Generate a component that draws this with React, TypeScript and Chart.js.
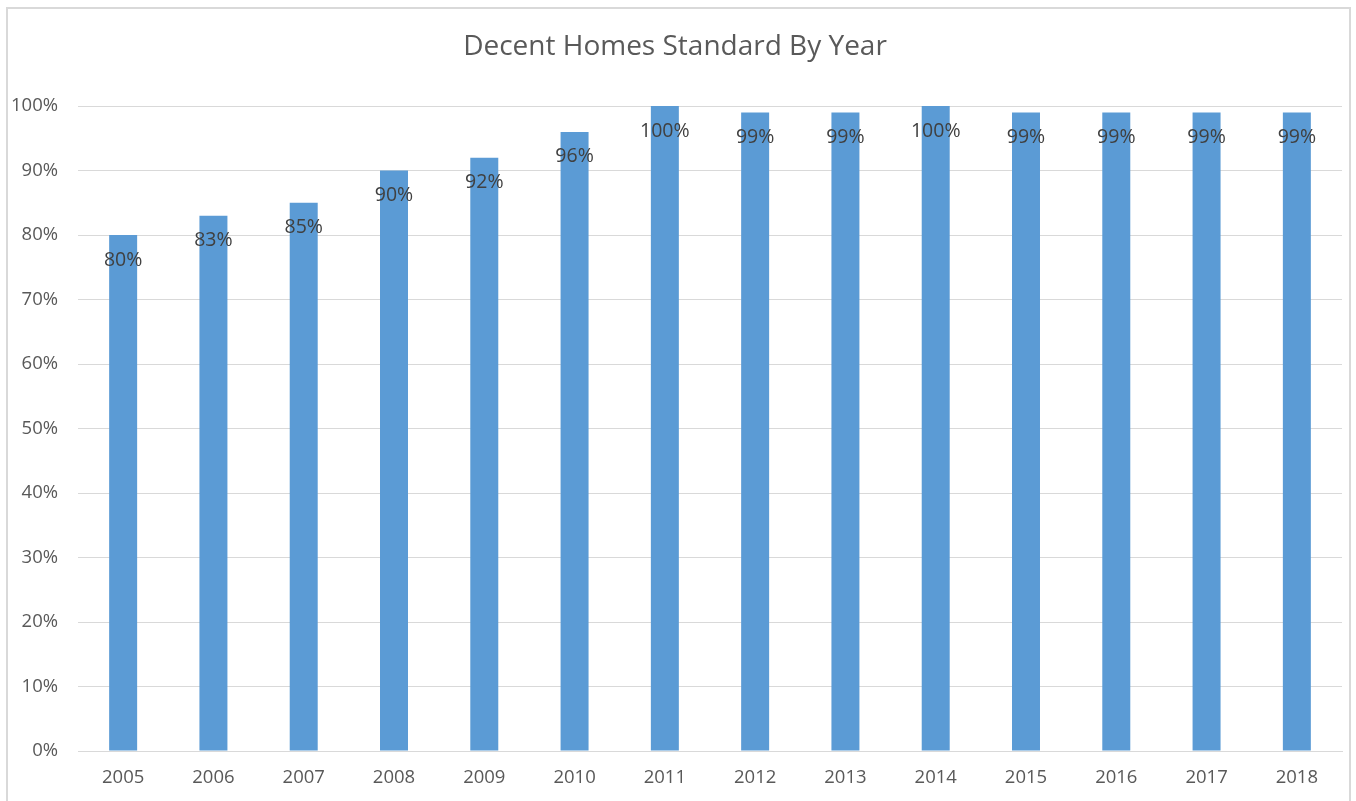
import React, { useEffect, useRef } from "react";
import { Chart, registerables } from "chart.js";

Chart.register(...registerables);

const years = ["2005", "2006", "2007", "2008", "2009", "2010", "2011", "2012", "2013", "2014", "2015", "2016", "2017", "2018"];
const decentPct = [80, 83, 85, 90, 92, 96, 100, 99, 99, 100, 99, 99, 99, 99];
const titleText = "Decent Homes Standard By Year";

const FONT = "'Open Sans', 'Noto Sans', sans-serif";

const labelPlugin = {
  id: "barLabels",
  afterDatasetsDraw(chart: any) {
    const ctx = chart.ctx;
    const meta = chart.getDatasetMeta(0);
    ctx.save();
    ctx.font = `19.5px ${FONT}`;
    ctx.fillStyle = "#404040";
    ctx.textAlign = "center";
    ctx.textBaseline = "middle";
    meta.data.forEach((bar: any, i: number) => {
      ctx.fillText(decentPct[i] + "%", bar.x, bar.y + 25);
    });
    ctx.restore();
  },
};

export default function App() {
  const ref = useRef<HTMLCanvasElement>(null);
  useEffect(() => {
    if (!ref.current) return;
    const chart = new Chart(ref.current, {
      type: "bar",
      data: {
        labels: years,
        datasets: [
          {
            data: decentPct,
            backgroundColor: "#5B9BD5",
            borderWidth: 0,
            categoryPercentage: 1,
            barPercentage: 0.31,
          },
        ],
      },
      options: {
        animation: false,
        responsive: false,
        layout: { padding: { left: 0, right: 7, top: 0, bottom: 0 } },
        plugins: {
          legend: { display: false },
          tooltip: { enabled: false },
          title: {
            display: true,
            text: titleText,
            color: "#595959",
            font: { family: FONT, size: 28, weight: "normal" },
            padding: { top: 21.5, bottom: 42 },
          },
        },
        scales: {
          x: {
            grid: { display: false, drawTicks: false },
            border: { display: true, color: "#d9d9d9", width: 1 },
            ticks: { color: "#595959", font: { family: FONT, size: 18.5 }, padding: 16, maxRotation: 0 },
            afterFit: (s: any) => { s.height = 50; },
          },
          y: {
            min: 0,
            max: 100,
            grid: { color: "#d9d9d9", drawTicks: false },
            border: { display: false },
            ticks: {
              stepSize: 10,
              color: "#595959",
              font: { family: FONT, size: 18.5 },
              padding: 20,
              callback: (v: any) => v + "%",
            },
            afterFit: (s: any) => { s.width = 70; },
          },
        },
      },
      plugins: [labelPlugin],
    });
    return () => chart.destroy();
  }, []);
  return (
    <div
      style={{
        position: "absolute",
        left: 6,
        top: 7,
        width: 1341,
        height: 800,
        border: "2px solid #d9d9d9",
        background: "#fff",
        boxSizing: "content-box",
      }}
    >
      <canvas ref={ref} width={1341} height={792} style={{ display: "block" }} />
    </div>
  );
}
